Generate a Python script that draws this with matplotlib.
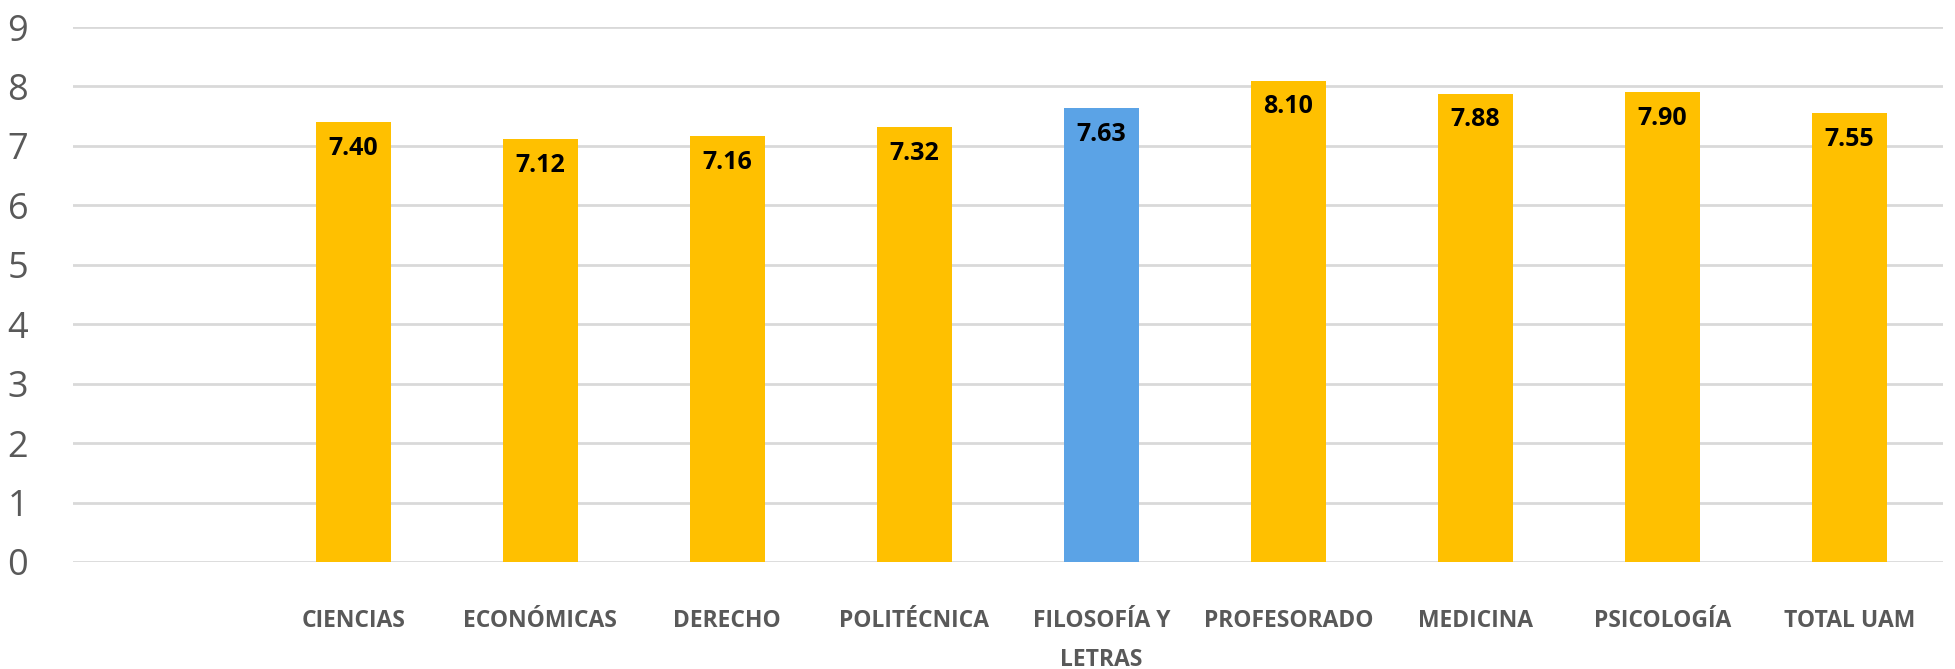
import matplotlib.pyplot as plt
import numpy as np

# datos: nota media por centro
centros = ['CIENCIAS', 'ECONÓMICAS', 'DERECHO', 'POLITÉCNICA', 'FILOSOFÍA Y\nLETRAS',
           'PROFESORADO', 'MEDICINA', 'PSICOLOGÍA', 'TOTAL UAM']
notas = [7.40, 7.12, 7.16, 7.32, 7.63, 8.10, 7.88, 7.90, 7.55]
destacado = 'FILOSOFÍA Y\nLETRAS'
y_ticks = [0, 1, 2, 3, 4, 5, 6, 7, 8, 9]

AMARILLO = '#FFC000'
AZUL = '#5BA3E6'
GRIS = '#595959'

fig = plt.figure(figsize=(19.55, 6.69), dpi=100)
ax = fig.add_axes([0.0372, 0.16, 0.9566, 0.7996])

# la primera posicion queda vacia, como en el original
x = np.arange(1, len(centros) + 1)
colores = [AZUL if c == destacado else AMARILLO for c in centros]
barras = ax.bar(x, notas, width=0.4, color=colores, zorder=3)

for b, v in zip(barras, notas):
    ax.annotate(f'{v:.2f}', (b.get_x() + b.get_width() / 2, v),
                xytext=(0, -19), textcoords='offset points',
                ha='center', va='center', fontsize=18, fontweight='bold',
                family='Open Sans', color='black', zorder=4)

ax.set_xlim(-0.5, len(centros) + 0.5)
ax.set_ylim(0, 9)
ax.set_yticks(y_ticks)
ax.set_xticks(x)
ax.set_xticklabels(centros, fontsize=16.5, fontweight='bold', family='Open Sans',
                   color=GRIS, linespacing=1.85, va='top')
ax.tick_params(axis='x', length=0, pad=34)
ax.tick_params(axis='y', length=0, pad=32, labelsize=26, labelcolor=GRIS)
for lbl in ax.get_yticklabels():
    lbl.set_family('Open Sans')

ax.grid(axis='y', color='#D9D9D9', linewidth=2, zorder=0)
for s in ax.spines.values():
    s.set_visible(False)

fig.savefig('out.png', dpi=100)
